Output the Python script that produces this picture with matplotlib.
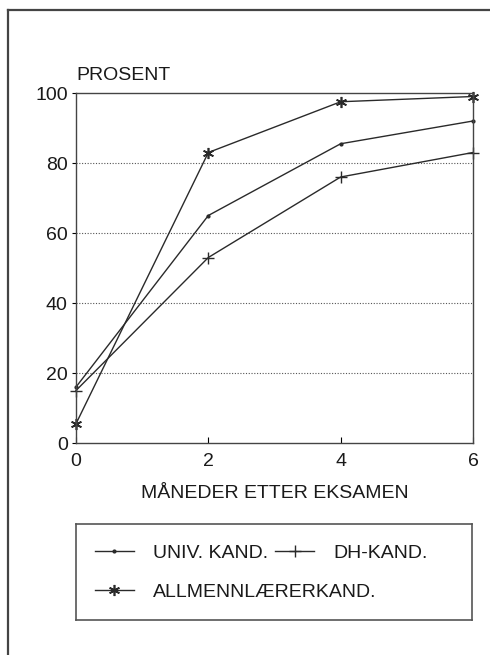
import matplotlib.pyplot as plt
from matplotlib.lines import Line2D

plt.rcParams['font.family'] = ['Liberation Sans', 'DejaVu Sans']

months = [0, 2, 4, 6]
univ = [16, 65, 85.5, 92]
dh = [15, 53, 76, 83]
allm = [5.5, 83, 97.5, 99]
labels = ['UNIV. KAND.', 'DH-KAND.', 'ALLMENNLÆRERKAND.']
yticks = [0, 20, 40, 60, 80, 100]
xticks = [0, 2, 4, 6]

W, H = 490, 655
fs = 14
tc = '#1a1a1a'
fig = plt.figure(figsize=(W/100, H/100), dpi=100)

# outer frame (left and top edges visible)
fig.add_artist(Line2D([8/W, 8/W], [0, 1-10/H], color='#444', lw=1.6))
fig.add_artist(Line2D([8/W, 1], [1-10/H, 1-10/H], color='#444', lw=1.6))

ax = fig.add_axes([76/W, 1-443/H, (473-76)/W, (443-93)/H])
lc = '#2a2a2a'
l1, = ax.plot(months, univ, color=lc, lw=1, marker='.', ms=4, clip_on=False)
l2, = ax.plot(months, dh, color=lc, lw=1, marker='+', ms=9, mew=1, clip_on=False)
l3, = ax.plot(months, allm, color=lc, lw=1, marker=(6, 2, 0), ms=8, mew=1.2,
              clip_on=False)

ax.set_xlim(0, 6)
ax.set_ylim(0, 100)
ax.set_xticks(xticks)
ax.set_yticks(yticks)
for y in yticks[1:-1]:
    ax.axhline(y, color='#555', lw=0.8, ls=(0, (1, 1.5)), zorder=0)
ax.tick_params(axis='x', direction='in', length=4, pad=7, labelsize=fs)
ax.tick_params(axis='y', direction='out', length=3, pad=3, labelsize=fs)
for s in ax.spines.values():
    s.set_color('#444')
    s.set_linewidth(1)
for t in ax.get_xticklabels() + ax.get_yticklabels():
    t.set_color(tc)

fig.text(76/W, 1-75/H, 'PROSENT', fontsize=fs, color=tc, va='center', ha='left')
fig.text((76+473)/2/W, 1-493/H, 'MÅNEDER ETTER EKSAMEN', fontsize=fs,
         color=tc, ha='center', va='center')

# legend box
lax = fig.add_axes([76/W, 1-620/H, (472-76)/W, (620-524)/H])
lax.set_xticks([])
lax.set_yticks([])
for s in lax.spines.values():
    s.set_color('#555')
    s.set_linewidth(1.2)
kw = dict(loc='center left', frameon=False, fontsize=fs, handlelength=2.0,
          handletextpad=1.0, borderpad=0, borderaxespad=0, labelcolor=tc)
leg1 = lax.legend([l1, l2], [labels[0], labels[1]], ncol=2,
                  bbox_to_anchor=(0.048, 0.70), columnspacing=0.35, **kw)
lax.add_artist(leg1)
lax.legend([l3], [labels[2]], bbox_to_anchor=(0.048, 0.29), **kw)

fig.savefig('out.png', dpi=100)
